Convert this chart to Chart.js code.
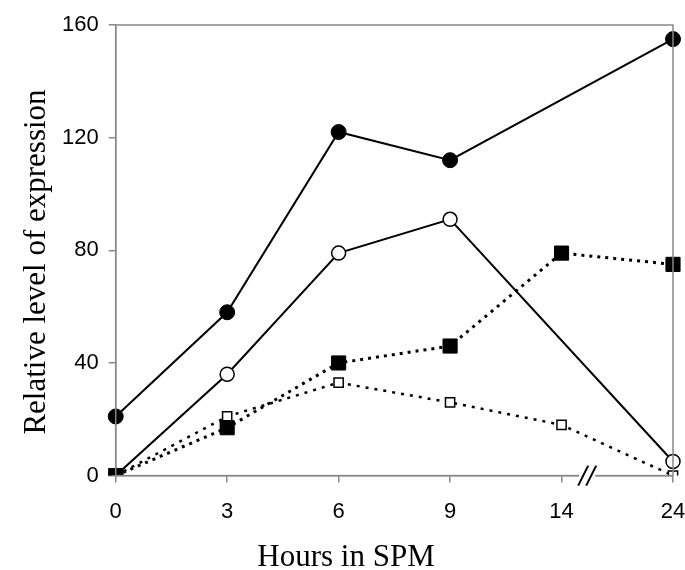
<!DOCTYPE html>
<html lang="en">
<head>
  <meta charset="UTF-8">
  <title>Relative level of expression</title>
  <script src="https://cdn.jsdelivr.net/npm/chart.js"></script>
  <style>
    html, body { margin: 0; padding: 0; background: #fff; }
    #wrap { width: 685px; height: 570px; }
  </style>
</head>
<body>
  <div id="wrap"><canvas id="chart"></canvas></div>

  <script>
    const hours = ['0', '3', '6', '9', '14', '24'];
    const filledCircles = [21, 58, 122, 112, null, 155];
    const openCircles = [0, 36, 79, 91, null, 5];
    const filledSquares = [0, 17, 40, 46, 79, 75];
    const openSquares = [0, 21, 33, 26, 18, 0];
    const yTicks = [0, 40, 80, 120, 160];
    const xTitle = 'Hours in SPM';
    const yTitle = 'Relative level of expression';

    const tickFont = { family: "'Liberation Sans', Arial, sans-serif", size: 22 };
    const titleFont = "31px 'Liberation Serif', 'Times New Roman', serif";

    // frame round the plot, the // break on the x axis, and the axis titles
    const frame = {
      id: 'frame',
      afterDraw(chart) {
        const { ctx, chartArea: a } = chart;
        ctx.save();
        ctx.strokeStyle = '#888';
        ctx.lineWidth = 1.5;
        ctx.strokeRect(a.left, a.top, a.right - a.left, a.bottom - a.top);

        const x = chart.scales.x;
        const x14 = x.getPixelForValue(4), x24 = x.getPixelForValue(5);
        const bx = x14 + (x24 - x14) * 0.23;
        ctx.fillStyle = '#fff';
        ctx.fillRect(bx - 8, a.bottom - 2, 16, 4);
        ctx.strokeStyle = '#000';
        ctx.lineWidth = 2;
        ctx.beginPath();
        [-4, 4].forEach(d => {
          ctx.moveTo(bx + d - 5, a.bottom + 10);
          ctx.lineTo(bx + d + 5, a.bottom - 10);
        });
        ctx.stroke();

        ctx.fillStyle = '#000';
        ctx.font = titleFont;
        ctx.textAlign = 'center';
        ctx.textBaseline = 'alphabetic';
        ctx.fillText(xTitle, 346, 566);
        ctx.translate(45, 262);
        ctx.rotate(-Math.PI / 2);
        ctx.fillText(yTitle, 0, 0);
        ctx.restore();
      }
    };

    new Chart(document.getElementById('chart'), {
      type: 'line',
      data: {
        labels: hours,
        datasets: [
          {
            data: filledSquares,
            borderColor: '#000', backgroundColor: '#000',
            borderWidth: 3, borderDash: [3, 5],
            pointStyle: 'rect', pointRadius: 10, pointBorderWidth: 1
          },
          {
            data: openSquares,
            borderColor: '#000', backgroundColor: '#fff',
            borderWidth: 2.5, borderDash: [3, 6],
            pointStyle: 'rect', pointRadius: 6.5, pointBorderWidth: 1.5
          },
          {
            data: openCircles,
            borderColor: '#000', backgroundColor: '#fff',
            borderWidth: 2, spanGaps: true,
            pointStyle: 'circle', pointRadius: 7, pointBorderWidth: 1.5
          },
          {
            data: filledCircles,
            borderColor: '#000', backgroundColor: '#000',
            borderWidth: 2, spanGaps: true,
            pointStyle: 'circle', pointRadius: 7.5, pointBorderWidth: 1
          }
        ]
      },
      options: {
        responsive: true,
        maintainAspectRatio: false,
        animation: false,
        layout: { padding: { top: 25, right: 12, left: 52, bottom: 29 } },
        plugins: { legend: { display: false }, tooltip: { enabled: false } },
        elements: { line: { tension: 0 } },
        scales: {
          x: {
            offset: false,
            afterFit(scale) { scale.paddingLeft = 0; scale.paddingRight = 0; },
            grid: { display: true, drawOnChartArea: false, drawTicks: true, tickLength: 7, color: '#888', lineWidth: 1.5 },
            border: { display: true, color: '#888', width: 1.5 },
            ticks: { color: '#000', font: tickFont, padding: 16 }
          },
          y: {
            min: 0, max: 160,
            afterBuildTicks(scale) { scale.ticks = yTicks.map(v => ({ value: v })); },
            grid: { display: true, drawOnChartArea: false, drawTicks: true, tickLength: 7, color: '#888', lineWidth: 1.5 },
            border: { display: true, color: '#888', width: 1.5 },
            ticks: { color: '#000', font: tickFont, padding: 10 }
          }
        }
      },
      plugins: [frame]
    });
  </script>
</body>
</html>
